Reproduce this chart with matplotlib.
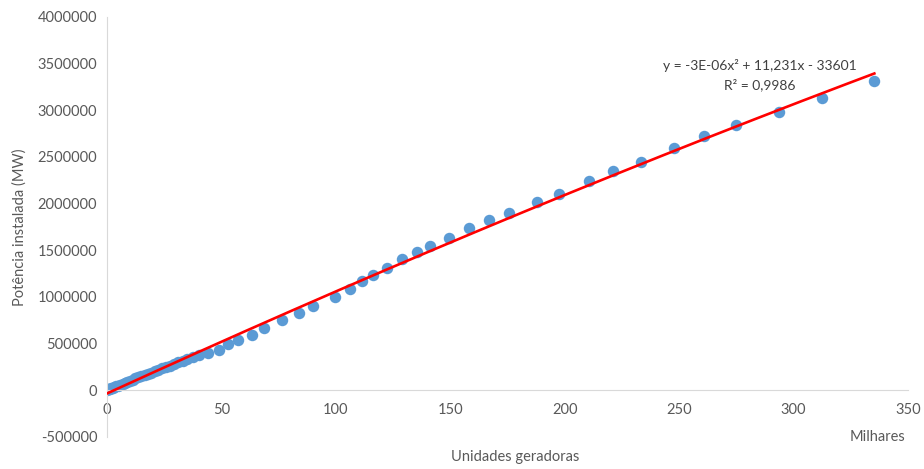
import numpy as np
import matplotlib
matplotlib.use('Agg')
import matplotlib.pyplot as plt

plt.rcParams['font.family'] = ['Lato', 'DejaVu Sans']

# Unidades geradoras (milhares) e potência instalada (MW)
unidades = [0.05, 0.3, 0.7, 1.2, 1.8, 2.5, 3.2, 4.0, 4.9, 5.8, 6.8, 7.8,
            8.9, 10.0, 11.2, 12.4, 13.7, 15.0, 16.4, 17.8, 19.3, 20.8, 22.4,
            24.0, 25.7, 27.4, 29.2, 31.1, 33.0, 35.1, 37.4, 40.2, 44.3, 48.9,
            53.0, 57.4, 63.2, 68.6, 76.3, 83.8, 90.1, 99.6, 106.0, 111.3,
            116.4, 122.2, 129.0, 135.3, 141.1, 149.6, 158.3, 166.7, 175.8,
            188.0, 197.5, 210.5, 221.2, 233.5, 247.8, 260.9, 274.8, 293.5,
            312.3, 335.3]
potencia = [5000, 9000, 13000, 18000, 23000, 29000, 35000, 43000, 51000,
            60000, 70000, 80000, 91000, 103000, 115000, 127000, 140000,
            152000, 164000, 176000, 190000, 204000, 219000, 234000, 249000,
            265000, 283000, 300000, 317000, 338000, 360000, 378000, 405000,
            436000, 501000, 536000, 597000, 672000, 758000, 829000, 901000,
            1000000, 1091000, 1169000, 1241000, 1316000, 1402000, 1477000,
            1548000, 1633000, 1734000, 1825000, 1895000, 2013000, 2102000,
            2245000, 2349000, 2448000, 2592000, 2724000, 2839000, 2981000,
            3128000, 3314000]

# coeficientes da linha de tendência (polinomial, x em unidades)
coef = [-3e-06, 11.231, -33601]

fig = plt.figure(figsize=(9.24, 4.69), dpi=100)
ax = fig.add_axes([107/924, 1-437/469, (908-107)/924, (437-17)/469])

ax.scatter(unidades, potencia, s=68, color='#5B9BD5', zorder=2, linewidths=0)
xt = np.linspace(0, max(unidades), 200)
ax.plot(xt, np.polyval(coef, xt*1000), color='#FF0000', linewidth=1.9, zorder=3)

ax.set_xlim(0, 350)
ax.set_ylim(-500000, 4000000)
ax.set_xticks(np.arange(0, 351, 50))
ax.set_yticks(np.arange(-500000, 4000001, 500000))
ax.yaxis.set_major_formatter(matplotlib.ticker.FuncFormatter(lambda v, p: '%d' % v))

for s in ['top', 'right']:
    ax.spines[s].set_visible(False)
ax.spines['bottom'].set_position(('data', 0))
ax.spines['bottom'].set_color('#D9D9D9')
ax.spines['left'].set_color('#D9D9D9')
ax.tick_params(length=0, labelsize=10.5, labelcolor='#595959')
ax.tick_params(axis='x', pad=9)
ax.tick_params(axis='y', pad=7)

fig.text(20/924, 1-227/469, 'Potência instalada (MW)', rotation=90, ha='center',
         va='center', fontsize=10.5, color='#595959')
fig.text(515/924, 1-457/469, 'Unidades geradoras', ha='center', va='center',
         fontsize=10.5, color='#595959')
fig.text(905/924, 1-437/469, 'Milhares', ha='right', va='center',
         fontsize=10.5, color='#595959')

fig.text(760/924, 1-65/469, 'y = -3E-06x² + 11,231x - 33601', ha='center',
         va='center', fontsize=10, color='#404040')
fig.text(760/924, 1-85/469, 'R² = 0,9986', ha='center', va='center',
         fontsize=10, color='#404040')

fig.savefig('out.png', dpi=100)
